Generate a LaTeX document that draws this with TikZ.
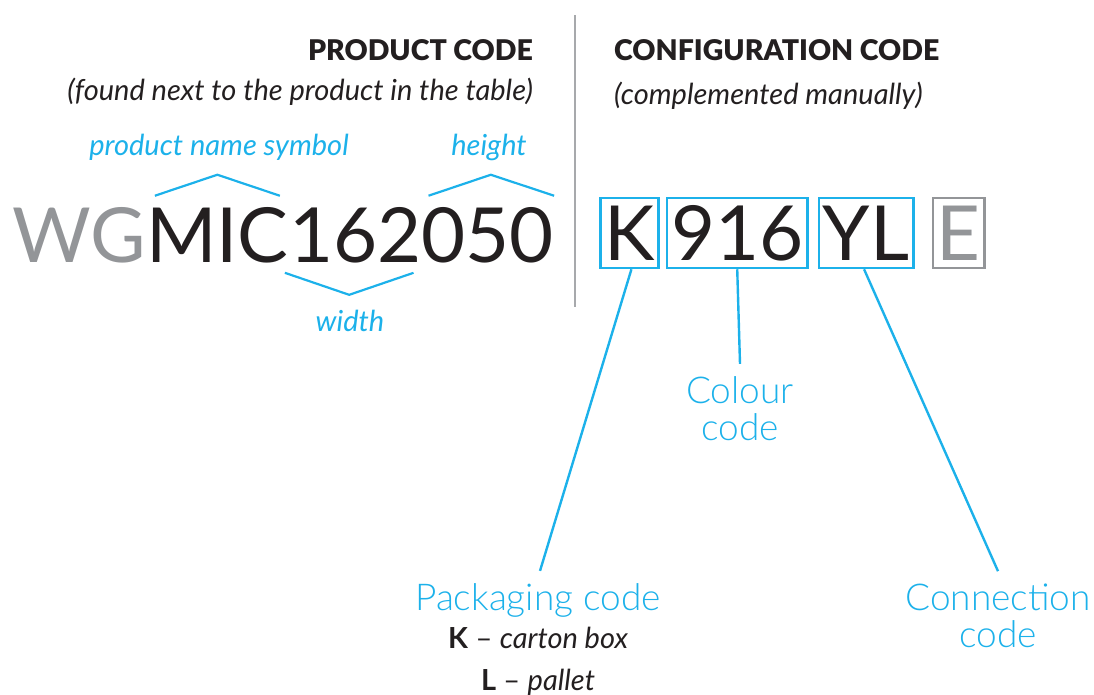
\documentclass[tikz,border=0pt]{standalone}
\usepackage{fontspec}
\setmainfont{Lato}
\newfontfamily\lightfont{Lato Light}
\newfontfamily\heavyfont{Lato Black}
\usetikzlibrary{positioning,calc}

\definecolor{codeblue}{HTML}{1CB1EA}
\definecolor{codegray}{HTML}{939598}
\definecolor{codeink}{HTML}{231F20}
\definecolor{rulegray}{HTML}{A7A9AC}

\begin{document}
\begin{tikzpicture}[
x=1pt, y=-1pt,
bigtext/.style={
  inner sep=0pt,
  text=codeink,
  font=\fontsize{76}{76}\selectfont},
codebox/.style={
  draw=codeblue,
  line width=2.5pt,
  inner xsep=4pt,
  inner ysep=0pt,
  text height=62pt,
  text depth=8pt,
  text=codeink,
  font=\fontsize{76}{76}\selectfont},
chevron/.style={
  draw=codeblue,
  line width=2.2pt},
pointer/.style={
  draw=codeblue,
  line width=2.4pt},
header/.style={
  inner sep=0pt,
  text=codeink,
  font=\fontsize{28.5}{28.5}\heavyfont},
remark/.style={
  inner sep=0pt,
  text=codeink,
  font=\fontsize{29}{29}\selectfont\itshape},
partname/.style={
  inner sep=0pt,
  text=codeblue,
  font=\fontsize{29}{29}\selectfont\itshape},
fieldname/.style={
  inner sep=0pt,
  align=center,
  text=codeblue,
  font=\fontsize{37}{37}\lightfont},
option/.style={
  inner sep=0pt,
  text=codeink,
  font=\fontsize{29}{29}\selectfont}
]
\useasboundingbox (0,0) rectangle (1094,694);

% divider between the two halves
\draw[rulegray, line width=2.2pt] (575,15) coordinate (top) -- (575,307) coordinate (bottom);

% headings
\node[header, anchor=base east] (prodhead) at (533,60) {PRODUCT CODE};
\node[remark, anchor=base east] (prodnote) at (533,100) {(found next to the product in the table)};
\node[header, anchor=base west] (confhead) at (614,60) {CONFIGURATION CODE};
\node[remark, anchor=base west] (confnote) at (614,104) {(complemented manually)};

% product code
\node[bigtext, anchor=base west, text=codegray] (wg) at (12,262) {WG};
\node[bigtext, anchor=base west] (mic) at (wg.base east) {MIC};
\node[bigtext, anchor=base west] (wide) at (mic.base east) {162};
\node[bigtext, anchor=base west] (high) at (wide.base east) {050};

\draw[chevron] ($(mic.north west)+(9,-11)$) -- ($(mic.north)+(0,-32)$) -- ($(mic.north east)+(-9,-11)$);
\draw[chevron] ($(high.north west)+(7,-11)$) -- ($(high.north)+(3,-32)$) -- ($(high.north east)+(0,-11)$);
\draw[chevron] ($(wide.south west)+(-4,10)$) -- ($(wide.south)+(-6,32)$) -- ($(wide.south east)+(-8,10)$);

\node[partname, anchor=base] (symlbl) at (219,155) {product name symbol};
\node[partname, anchor=base] (highlbl) at (489,155) {height};
\node[partname, anchor=base] (widelbl) at (350,331) {width};

% configuration code
\node[codebox, anchor=west] (pack) at (599,233) {K};
\node[codebox, right=6pt of pack] (colour) {916};
\node[codebox, right=9pt of colour] (conn) {YL};
\node[codebox, right=17pt of conn, draw=codegray, text=codegray, line width=2.2pt] (extra) {E};

% field names
\node[fieldname, anchor=base] (packlbl) at (538,610) {Packaging code};
\node[option, anchor=base] (packk) at (538,648) {\textbf{K} -- \textit{carton box}};
\node[option, anchor=base] (packl) at (538,690) {\textbf{L} -- \textit{pallet}};
\node[fieldname, anchor=base] (colourlbl) at (740,440) {Colour\\code};
\node[fieldname, anchor=base] (connlbl) at (998,647) {Connection\\code};

\draw[pointer] ($(pack.south)+(2,0)$) -- ($(packlbl.north)+(2,-12)$);
\draw[pointer] (colour.south) -- ($(colourlbl.north)+(0,-12)$);
\draw[pointer] ($(conn.south)+(-2,0)$) -- ($(connlbl.north)+(0,-12)$);
\end{tikzpicture}
\end{document}
